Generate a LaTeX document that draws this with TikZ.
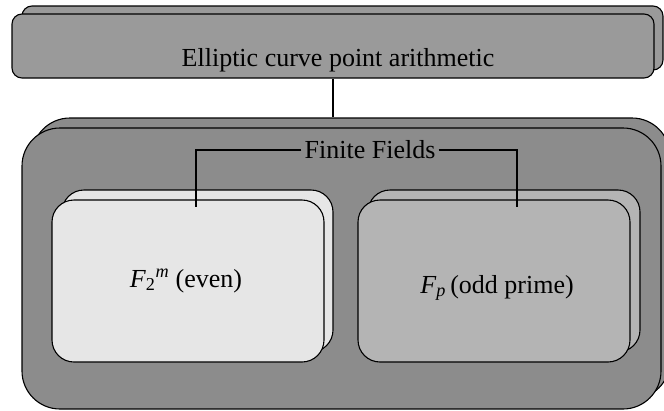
\documentclass[tikz,border=0pt]{standalone}
\usepackage{fontspec}
\setmainfont{Liberation Serif}
\definecolor{topgray}{RGB}{154,154,154}
\definecolor{fieldgray}{RGB}{140,140,140}
\definecolor{evenfill}{RGB}{230,230,230}
\definecolor{oddfill}{RGB}{180,180,180}
\begin{document}
\begin{tikzpicture}[x=1pt,y=-1pt,
  card/.style={draw=black, line width=1.1pt, rounded corners=#1, inner sep=0pt},
  lbl/.style={font=\fontsize{26}{30}\selectfont, inner sep=0pt},
  wire/.style={line width=1.1pt}]
\useasboundingbox (0,0) rectangle (664,410);
\clip (0,0) rectangle (664,410);

% top layer: point arithmetic, stacked card
\node[card=10pt, fill=topgray, minimum width=641pt, minimum height=64pt] (topback) at (342.5,38) {};
\node[card=10pt, fill=topgray, minimum width=642pt, minimum height=64pt] (topfront) at (333,46) {};
\node[lbl, anchor=base] (toptext) at (338,66) {Elliptic curve point arithmetic};

% field layer, stacked card
\node[card=38pt, fill=fieldgray, minimum width=638pt, minimum height=281pt] (bigback) at (351,258.5) {};
\node[card=38pt, fill=fieldgray, minimum width=639pt, minimum height=281pt] (bigfront) at (341.5,268.5) {};

% binary field card
\node[card=22pt, fill=evenfill, minimum width=271pt, minimum height=162pt] (evenback) at (197.5,271) {};
\node[card=22pt, fill=evenfill, minimum width=272pt, minimum height=162pt] (evenfront) at (188,281) {};
\node[lbl, anchor=base] (eventext) at (186,287) {\textit{F}\textsubscript{2}\textsuperscript{\textit{m}} (even)};

% prime field card
\node[card=22pt, fill=oddfill, minimum width=272pt, minimum height=162pt] (oddback) at (504,271) {};
\node[card=22pt, fill=oddfill, minimum width=272pt, minimum height=162pt] (oddfront) at (494,281) {};
\node[lbl, anchor=base] (oddtext) at (497,293) {\textit{F}\textsubscript{\textit{p}}\,(odd prime)};

% connectors
\draw[wire] (topfront.south) -- (topfront.south |- bigback.north);
\node[lbl, inner xsep=3pt] (ff) at (370,150) {Finite Fields};
\coordinate (evenend) at (196,207);
\coordinate (oddend) at (517,207);
\draw[wire] (ff.west) -| (evenend);
\draw[wire] (ff.east) -| (oddend);
\end{tikzpicture}
\end{document}
